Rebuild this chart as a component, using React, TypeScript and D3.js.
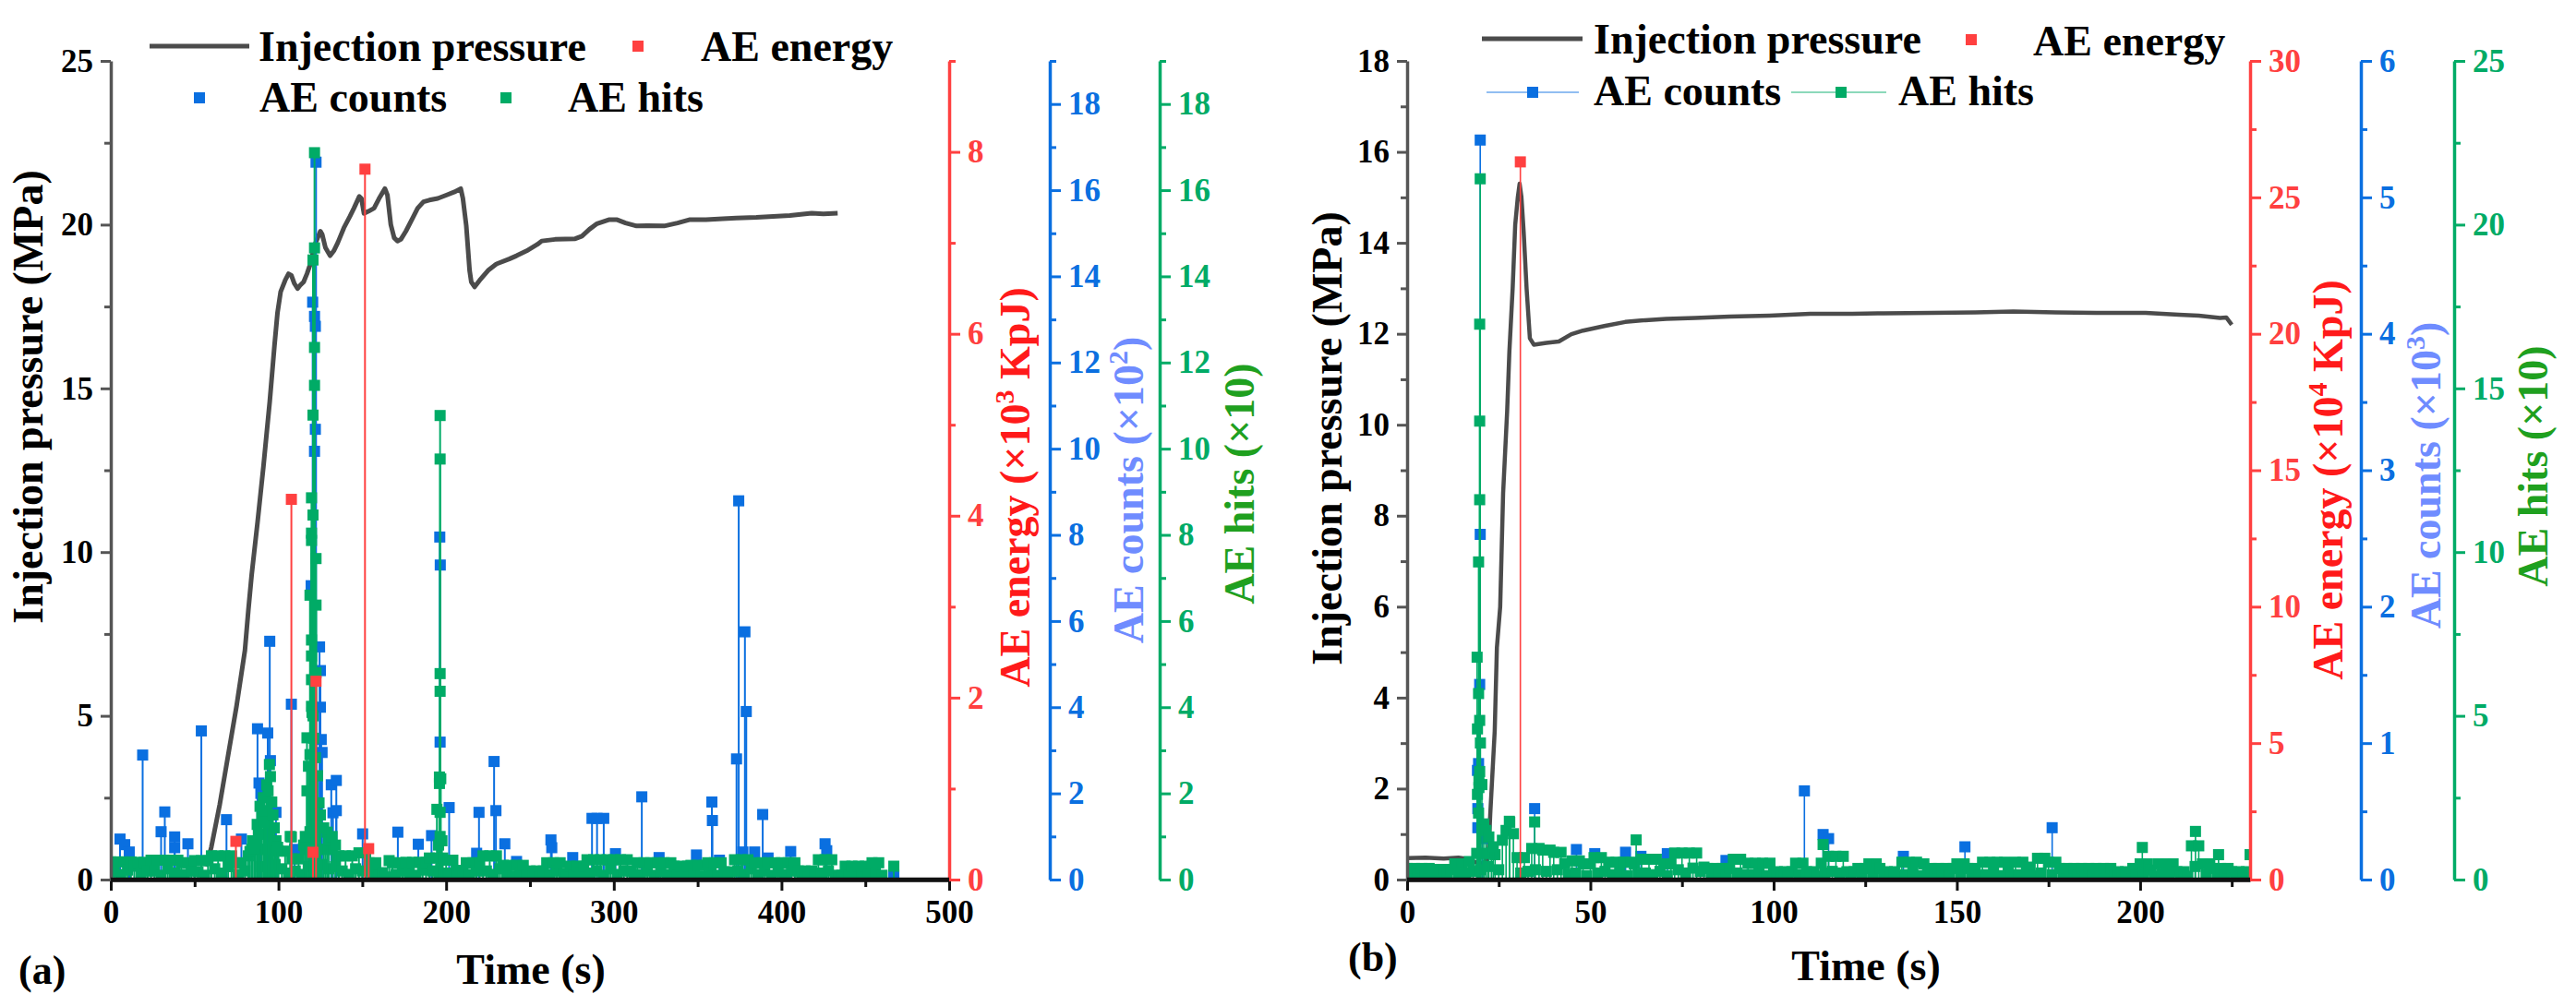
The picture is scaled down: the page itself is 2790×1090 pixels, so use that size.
import React, { useEffect, useRef } from "react";
import * as d3 from "d3";

type Pt = [number, number];

// ================= Panel (a) data =================
const pressureA: Pt[] = [
  [57, 0.4], [60, 1.0], [65, 2.3], [70, 3.8], [75, 5.3], [80, 7.0], [82, 8.2], [84, 9.3], [87.5, 10.9],
  [91, 12.6], [94.8, 14.6], [97.6, 16.3], [99.4, 17.3], [101.3, 17.95], [104, 18.3], [106, 18.5],
  [107.7, 18.45], [109.5, 18.2], [111.4, 18.05], [113, 18.15], [115, 18.25], [117, 18.5], [119.7, 18.9],
  [121, 19.3], [123.4, 19.6], [125, 19.8], [126.1, 19.7], [128, 19.3], [130.8, 19.05], [133, 19.2],
  [135.4, 19.45], [139, 19.9], [142.7, 20.26], [145, 20.5], [148.2, 20.86], [149.5, 20.8], [151, 20.34],
  [153.8, 20.41], [157, 20.5], [160, 20.8], [163.5, 21.1], [165, 20.9], [167, 20.0], [169, 19.6],
  [171, 19.5], [173, 19.55], [176, 19.8], [180, 20.2], [183, 20.5], [186.5, 20.7], [190, 20.75],
  [195, 20.8], [200, 20.9], [205, 21.0], [208.7, 21.1], [210, 20.8], [212, 19.97], [214, 18.6],
  [215, 18.25], [217, 18.1], [220, 18.3], [225, 18.6], [230, 18.8], [237.6, 18.95], [242, 19.05],
  [248, 19.2], [254.5, 19.4], [257, 19.5], [265, 19.55], [277, 19.57], [281, 19.65], [285.5, 19.86],
  [290, 20.03], [297, 20.15], [302, 20.15], [307, 20.05], [313.6, 19.96], [320, 19.97], [330, 19.96],
  [338, 20.05], [345, 20.15], [355, 20.15], [365, 20.18], [373, 20.2], [385, 20.22], [395, 20.25],
  [405, 20.28], [418, 20.35], [425, 20.33], [433.5, 20.35],
];

// AE energy (x10^3 KpJ)
const energyA: Pt[] = [
  [74.6, 0.42], [107.7, 4.18], [120.6, 0.3], [122.4, 2.18], [151.6, 7.81], [153.8, 0.34],
];

// AE counts (x10^2)
const countsA: Pt[] = [
  [5.5, 0.94], [8.3, 0.81], [11, 0.64], [19, 2.89], [30, 1.11], [32.2, 1.57], [38.1, 0.99], [38.1, 0.74],
  [46, 0.83], [54, 3.45], [69, 1.39], [77.9, 0.94], [87.5, 3.5], [88.4, 2.24], [89.5, 2.0], [93.6, 3.4],
  [94.8, 5.53], [95.2, 2.76], [98.5, 1.56], [107.7, 4.07], [109.6, 0.7],
  [122.4, 16.65], [120.4, 13.4], [121.5, 13.07], [122, 12.84], [122, 10.45], [121.5, 9.94], [119.5, 6.82],
  [124.5, 5.4], [125, 4.85], [125, 4.0], [125.5, 3.25], [126, 2.95], [131.5, 2.2], [134.5, 2.3],
  [132.5, 1.55], [134.5, 1.6],
  [150.2, 1.06], [171.2, 1.1], [183.4, 0.82], [191.3, 1.02], [196.2, 7.95], [196.5, 7.3], [196.4, 3.19],
  [201.8, 1.67], [218.2, 0.61], [219.6, 1.56], [228.6, 2.74], [229.7, 1.6], [235, 0.83], [242, 0.42],
  [262.5, 0.92], [263, 0.74], [275.5, 0.51], [287, 1.42], [290, 1.42], [294, 1.42], [301, 0.6],
  [316.7, 1.92], [327, 0.51], [349.3, 0.57], [358.5, 1.8], [358.8, 1.37], [363, 0.45], [373.2, 2.8],
  [374.5, 8.79], [377, 0.64], [378.2, 5.75], [379, 3.9], [384, 0.64], [388.8, 1.51], [392, 0.5],
  [405.5, 0.65], [426, 0.83], [427, 0.67], [467, 0.1],
];

// AE hits (x10): isolated bursts
const hitsA: Pt[] = [
  [83, 0.65], [84.5, 0.9], [85.5, 0.72], [86.4, 0.83], [87.3, 1.28], [88, 1.05], [89, 1.7], [90, 1.45],
  [91, 1.9], [91.6, 1.33], [92, 1.6], [93, 2.2], [93.8, 2.06], [94.6, 2.67], [95.2, 2.39], [96, 1.8],
  [96.7, 1.5], [97.5, 1.2], [98.5, 0.9], [99.5, 0.75], [107, 1.0], [107.7, 0.99],
  [115, 0.8], [116, 1.0], [117, 3.29], [117, 2.06], [117.9, 2.63], [118.8, 6.6], [118.8, 2.9],
  [118.8, 1.11], [119.7, 8.86], [119.7, 8.04], [119.7, 7.87], [119.7, 5.56], [119.7, 5.19],
  [119.7, 4.64], [119.7, 4.02], [120, 3.88], [120.6, 14.38], [120.6, 10.78], [120.6, 8.46],
  [120.6, 3.8], [121, 3.28], [121.5, 16.87], [121.5, 14.66], [121.5, 12.35], [121.5, 11.47],
  [122, 2.83], [122.4, 7.45], [122.4, 6.37], [122.4, 4.8], [123, 1.3], [123.3, 2.41], [124.2, 1.78],
  [125, 1.5], [127, 1.2], [129, 1.1], [130, 0.9], [132, 1.0], [134, 0.8],
  [194.5, 1.63], [195.5, 0.8], [196, 2.38], [196, 2.23], [196.4, 10.77], [196.4, 9.76], [196.4, 4.78],
  [196.4, 4.37], [196.4, 1.56], [196.4, 1.0], [196.8, 2.34], [197.5, 0.9], [467, 0.31],
];

// AE hits (x10): background level, one reading every 2 s from t = 0 s
const hitsBandA: number[] = [
  0.41, 0.18, 0.41, 0.12, 0.41, 0.22, 0.41,
  0.31,
  0.40, 0.15, 0.40, 0.2,
  0.45, 0.2, 0.45, 0.1, 0.45, 0.25, 0.45, 0.15, 0.45,
  0.39, 0.12, 0.39, 0.2,
  0.44, 0.18, 0.44, 0.1, 0.44,
  0.55, 0.25, 0.55, 0.15, 0.55, 0.3, 0.55,
  0.39, 0.12, 0.39, 0.2,
  0.55, 0.7, 0.8,
  0.7, 0.3, 0.7, 0.2, 0.7, 0.35,
  0.66, 0.25, 0.66, 0.15,
  0.48, 0.2, 0.48, 0.12,
  0.7, 0.3, 0.7, 0.2, 0.7, 0.35, 0.7, 0.25, 0.7, 0.3,
  0.55, 0.2, 0.55, 0.12, 0.55, 0.25,
  0.62, 0.2, 0.62,
  0.39, 0.15, 0.39, 0.1,
  0.16, 0.06,
  0.44,
  0.39, 0.12, 0.39, 0.2,
  0.40, 0.15, 0.40, 0.1, 0.40, 0.22, 0.40,
  0.5, 0.2, 0.5, 0.15, 0.5,
  0.45, 0.15, 0.45,
  0.21, 0.08, 0.21,
  0.39, 0.12, 0.39, 0.2, 0.39,
  0.55, 0.2, 0.55, 0.12, 0.55, 0.25,
  0.33, 0.12, 0.33, 0.08, 0.33, 0.15, 0.33, 0.1,
  0.2, 0.08, 0.2, 0.05, 0.2,
  0.39, 0.12, 0.39, 0.2, 0.39,
  0.14, 0.05,
  0.31, 0.1, 0.31, 0.15, 0.31,
  0.46, 0.15, 0.46, 0.2, 0.46, 0.1, 0.46, 0.25, 0.46, 0.12, 0.46, 0.2, 0.46,
  0.2, 0.06,
  0.39, 0.12, 0.39, 0.2, 0.39, 0.1, 0.39, 0.18, 0.39, 0.12, 0.39,
  0.31, 0.1, 0.31, 0.15, 0.31,
  0.33, 0.12, 0.33, 0.08, 0.33,
  0.39, 0.15, 0.39, 0.1, 0.39,
  0.18, 0.06, 0.18,
  0.46, 0.2, 0.46, 0.12, 0.46, 0.25,
  0.39, 0.12, 0.39, 0.2, 0.39, 0.1, 0.39, 0.18, 0.39, 0.12, 0.39, 0.2, 0.39,
  0.2, 0.08, 0.2, 0.05, 0.2, 0.1,
  0.46, 0.15, 0.46, 0.2, 0.46,
  0.1, 0.04, 0.1,
  0.31, 0.1, 0.31, 0.15, 0.31, 0.08, 0.31, 0.12,
  0.39, 0.15, 0.39, 0.1,
];
const hitsBandStepA = 2;

const timeTicksA = [0, 100, 200, 300, 400, 500];
const pressureTicksA = [0, 5, 10, 15, 20, 25];
const energyTicksA = [0, 2, 4, 6, 8];
const countsTicksA = [0, 2, 4, 6, 8, 10, 12, 14, 16, 18];
const hitsTicksA = [0, 2, 4, 6, 8, 10, 12, 14, 16, 18];

// ================= Panel (b) data =================
const pressureB: Pt[] = [
  [0, 0.47], [5, 0.48], [10, 0.46], [14, 0.48], [16.6, 0.45], [18, 0.4], [20, 0.35], [21.5, 0.4],
  [22.2, 0.55], [22.7, 1.46], [23.9, 3.26], [24.5, 5.1], [25.4, 6.0], [26.2, 8.5], [27.3, 10.3],
  [27.9, 11.6], [28.8, 13.0], [29.5, 14.4], [30.2, 15.0], [30.7, 15.3], [31.2, 15.0], [31.8, 14.25],
  [32.6, 13.0], [33.5, 11.9], [34.6, 11.76], [38, 11.8], [41.4, 11.83], [44.8, 11.99], [48, 12.07],
  [53.8, 12.17], [59.5, 12.26], [65, 12.3], [70.7, 12.33], [78.6, 12.35], [88, 12.38], [98.9, 12.4],
  [110, 12.44], [121.5, 12.44], [130, 12.45], [143, 12.46], [155, 12.47], [165.4, 12.49], [177, 12.47],
  [188, 12.46], [201.5, 12.46], [210.6, 12.42], [216, 12.4], [221.8, 12.35], [223.5, 12.36], [225, 12.2],
];

// AE energy (x10^4 KpJ)
const energyB: Pt[] = [[30.9, 26.3]];

// AE counts (x10^3)
const countsB: Pt[] = [
  [19.3, 0.38], [19.3, 0.52], [19.5, 0.85], [19.8, 1.43], [19.95, 2.53], [19.95, 5.42], [19.2, 0.8],
  [20.5, 0.3], [34.8, 0.52], [46.2, 0.22], [51.2, 0.19], [59.6, 0.2], [63.8, 0.17], [71, 0.19],
  [87, 0.14], [108.4, 0.65], [113.5, 0.33], [115, 0.3], [135.4, 0.17], [152.2, 0.24], [176, 0.38],
];

// AE hits (x10): isolated bursts
const hitsB: Pt[] = [
  [19.95, 21.4], [19.8, 16.96], [19.8, 14.0], [19.8, 11.6], [19.5, 9.7], [19.1, 6.79], [19.5, 5.68],
  [19.8, 4.86], [19.2, 4.6], [20, 4.17], [19.8, 3.3], [19.6, 3.04], [19.6, 2.81], [20.4, 2.9],
  [19.2, 2.6], [19.5, 2.03], [20.9, 1.7], [21.5, 1.5], [22.3, 1.3], [23.5, 1.0], [27.9, 1.78],
  [34.8, 1.76], [62.5, 1.21], [113.5, 1.07], [200.6, 0.98], [215.1, 1.47], [221.4, 0.76], [230, 0.76],
];

// AE hits (x10): background level, one reading every 1 s from t = 0 s
const hitsBandB: number[] = [
  0.34, 0.12, 0.34, 0.18, 0.34, 0.1, 0.34, 0.15,
  0.31, 0.1, 0.31, 0.15, 0.31,
  0.48, 0.15, 0.48, 0.2,
  0.55, 0.25,
  0.8, 0.3, 0.8, 0.4, 0.8,
  0.76, 0.3,
  1.2, 1.5, 1.75, 1.4,
  0.67, 0.2, 0.67, 0.25,
  0.95, 0.3, 0.95,
  0.9, 0.25, 0.9,
  0.83, 0.3, 0.83,
  0.48, 0.15,
  0.57, 0.2, 0.57,
  0.48, 0.12, 0.48,
  0.67, 0.2, 0.67, 0.25,
  0.53, 0.15, 0.53, 0.2, 0.53, 0.12, 0.53,
  0.48, 0.15,
  0.62, 0.2, 0.62, 0.15, 0.62, 0.25,
  0.48, 0.12, 0.48,
  0.81, 0.3, 0.81, 0.2, 0.81, 0.35, 0.81, 0.25,
  0.38,
  0.34, 0.1, 0.34, 0.15, 0.34, 0.12, 0.34,
  0.62, 0.2, 0.62, 0.15,
  0.5, 0.15, 0.5, 0.2, 0.5, 0.12, 0.5, 0.18,
  0.24, 0.08, 0.24, 0.1, 0.24,
  0.5, 0.15, 0.5,
  0.24, 0.08, 0.24, 0.1,
  0.5, 0.2,
  0.71, 0.25, 0.71, 0.2, 0.71,
  0.24, 0.08, 0.24,
  0.34, 0.12, 0.34,
  0.48, 0.15, 0.48,
  0.34, 0.1,
  0.24, 0.08, 0.24, 0.1,
  0.53, 0.15, 0.53, 0.2, 0.53, 0.12,
  0.48, 0.15,
  0.34, 0.1, 0.34, 0.15, 0.34, 0.12, 0.34,
  0.48, 0.15, 0.48,
  0.34, 0.1, 0.34, 0.12,
  0.53, 0.15, 0.53, 0.2, 0.53, 0.12, 0.53,
  0.34, 0.1,
  0.53, 0.15, 0.53, 0.2,
  0.38, 0.12,
  0.65, 0.2, 0.65,
  0.53, 0.15, 0.53,
  0.34, 0.1, 0.34, 0.15, 0.34, 0.12, 0.34, 0.08, 0.34, 0.12, 0.34, 0.15, 0.34, 0.1, 0.34, 0.12,
  0.24, 0.08, 0.24, 0.1,
  0.34, 0.12,
  0.48, 0.15, 0.48,
  0.29, 0.1,
  0.48, 0.15, 0.48, 0.2, 0.48,
  0.24, 0.08, 0.24, 0.1,
  1.03, 0.4, 1.03,
  0.48, 0.15, 0.48,
  0.34, 0.1, 0.34, 0.12, 0.34,
  0.24, 0.08, 0.24, 0.1, 0.24, 0.08,
];
const hitsBandStepB = 1;

const timeTicksB = [0, 50, 100, 150, 200];
const pressureTicksB = [0, 2, 4, 6, 8, 10, 12, 14, 16, 18];
const energyTicksB = [0, 5, 10, 15, 20, 25, 30];
const countsTicksB = [0, 1, 2, 3, 4, 5, 6];
const hitsTicksB = [0, 5, 10, 15, 20, 25];

// ================= styling =================
const FONT = "'Liberation Serif', 'Times New Roman', Times, serif";
const GRAY = "#4b4b4b";
const RED = "#ff4040";
const BLUE = "#0a6fe0";
const GREEN = "#00ab66";
const RED_TITLE = "#ff1a1a";
const BLUE_TITLE = "#6f8cff";
const GREEN_TITLE = "#1fa01f";

function bandPoints(vals: number[], step: number): Pt[] {
  return vals.map((v, i) => [i * step, v] as Pt);
}

function drawAxis(parent: any, gen: any, transform: string, lineColor: string, textColor: string, domainW: number, minor: boolean) {
  const a = parent.append("g").attr("transform", transform).call(gen);
  a.attr("font-family", FONT).attr("font-size", 35).attr("font-weight", "bold");
  if (minor) a.select(".domain").remove();
  else a.select(".domain").attr("stroke", lineColor).attr("stroke-width", domainW);
  a.selectAll(".tick line").attr("stroke", lineColor).attr("stroke-width", 3);
  a.selectAll(".tick text")
    .attr("fill", textColor)
    .attr("font-family", FONT)
    .attr("font-size", 35)
    .attr("font-weight", "bold")
    .style("font-family", FONT);
  return a;
}

function drawSeries(plot: any, data: Pt[], x: any, y: any, color: string, stemW: number, size: number) {
  const s = plot.append("g");
  s.selectAll("line").data(data).join("line")
    .attr("x1", (d: Pt) => x(d[0])).attr("x2", (d: Pt) => x(d[0]))
    .attr("y1", y(0)).attr("y2", (d: Pt) => y(d[1]))
    .attr("stroke", color).attr("stroke-width", stemW);
  s.selectAll("rect").data(data).join("rect")
    .attr("x", (d: Pt) => x(d[0]) - size / 2).attr("y", (d: Pt) => y(d[1]) - size / 2)
    .attr("width", size).attr("height", size).attr("fill", color);
}

function vTitle(svg: any, bx: number, cy: number, color: string, parts: [string, boolean][]) {
  const t = svg.append("text")
    .attr("transform", `translate(${bx},${cy}) rotate(-90)`)
    .attr("text-anchor", "middle").attr("font-family", FONT).attr("font-weight", "bold")
    .attr("font-size", 46).attr("fill", color);
  let sup = false;
  parts.forEach(([s, isSup]) => {
    const ts = t.append("tspan").text(s);
    if (isSup && !sup) ts.attr("dy", -17).attr("font-size", 30);
    else if (!isSup && sup) ts.attr("dy", 17);
    sup = isSup;
  });
}

function txt(svg: any, x: number, y: number, s: string, size: number, anchor = "start", color = "#000") {
  svg.append("text").attr("x", x).attr("y", y).attr("font-family", FONT).attr("font-weight", "bold")
    .attr("font-size", size).attr("text-anchor", anchor).attr("fill", color).text(s);
}

function drawPanel(svg: any, c: any) {
  const g = svg.append("g");
  const x = d3.scaleLinear().domain([0, c.xMax]).range([c.left, c.right]);
  const yP = d3.scaleLinear().domain([0, c.pMax]).range([c.bottom, c.top]);
  const yE = d3.scaleLinear().domain([0, c.eMax]).range([c.bottom, c.top]);
  const yC = d3.scaleLinear().domain([0, c.cMax]).range([c.bottom, c.top]);
  const yH = d3.scaleLinear().domain([0, c.hMax]).range([c.bottom, c.top]);

  svg.append("defs").append("clipPath").attr("id", "clip" + c.id).append("rect")
    .attr("x", c.left).attr("y", c.top - 20).attr("width", c.right - c.left).attr("height", c.bottom - c.top + 20);
  const plot = g.append("g").attr("clip-path", `url(#clip${c.id})`);

  plot.append("path").datum(c.pressure)
    .attr("d", d3.line<Pt>().x(d => x(d[0])).y(d => yP(d[1])))
    .attr("fill", "none").attr("stroke", GRAY).attr("stroke-width", c.lineW).attr("stroke-linejoin", "round");

  drawSeries(plot, c.counts, x, yC, BLUE, c.stem, 12);
  drawSeries(plot, c.band, x, yH, GREEN, c.stem, 12);
  drawSeries(plot, c.hits, x, yH, GREEN, c.stem, 12);
  drawSeries(plot, c.energy, x, yE, RED, c.stem, 12);

  // x axis
  drawAxis(g, d3.axisBottom(x).tickValues(c.xMinor).tickSize(8).tickFormat(() => ""), `translate(0,${c.bottom})`, "#111", "#000", 4, true);
  drawAxis(g, d3.axisBottom(x).tickValues(c.xTicks).tickSize(12).tickPadding(10).tickSizeOuter(0).tickFormat(d3.format("d")), `translate(0,${c.bottom})`, "#111", "#000", 4.5, false);
  // left axis
  drawAxis(g, d3.axisLeft(yP).tickValues(c.pMinor).tickSize(7).tickFormat(() => ""), `translate(${c.left},0)`, "#555", "#000", 3, true);
  drawAxis(g, d3.axisLeft(yP).tickValues(c.pTicks).tickSize(11).tickPadding(8).tickSizeOuter(0).tickFormat(d3.format("d")), `translate(${c.left},0)`, "#555", "#000", 3.5, false);
  // right axes
  const rights: [any, number, number[], number[], string][] = [
    [yE, c.right, c.eTicks, c.eMinor, RED],
    [yC, c.blueX, c.cTicks, c.cMinor, BLUE],
    [yH, c.greenX, c.hTicks, c.hMinor, GREEN],
  ];
  rights.forEach(([sc, ax, ticks, minor, col]) => {
    drawAxis(g, d3.axisRight(sc).tickValues(minor).tickSize(7).tickFormat(() => ""), `translate(${ax},0)`, col, col, 3, true);
    drawAxis(g, d3.axisRight(sc).tickValues(ticks).tickSize(12).tickPadding(8).tickSizeOuter(0).tickFormat(d3.format("d")), `translate(${ax},0)`, col, col, 3.5, false);
  });
  g.append("line").attr("x1", c.left).attr("x2", c.right).attr("y1", c.bottom).attr("y2", c.bottom)
    .attr("stroke", "#111").attr("stroke-width", 4.5);

  // titles
  vTitle(svg, c.pTitleX, c.pTitleY, "#000", [["Injection pressure (MPa)", false]]);
  vTitle(svg, c.eTitleX, c.eTitleY, RED_TITLE, [["AE energy (×10", false], [c.eExp, true], [" KpJ)", false]]);
  vTitle(svg, c.cTitleX, c.cTitleY, BLUE_TITLE, [["AE counts (×10", false], [c.cExp, true], [")", false]]);
  vTitle(svg, c.hTitleX, c.hTitleY, GREEN_TITLE, [["AE hits (×10)", false]]);
  txt(svg, c.timeX, c.timeY, "Time (s)", 46, "middle");
  txt(svg, c.tagX, c.tagY, c.tag, 44);

  // legend
  const L = c.legend;
  svg.append("line").attr("x1", L.pLine[0]).attr("x2", L.pLine[1]).attr("y1", L.pLine[2]).attr("y2", L.pLine[2])
    .attr("stroke", GRAY).attr("stroke-width", 5);
  txt(svg, L.pText[0], L.pText[1], "Injection pressure", 46);
  const sq = (cx: number, cy: number, col: string) =>
    svg.append("rect").attr("x", cx - 6).attr("y", cy - 6).attr("width", 12).attr("height", 12).attr("fill", col);
  if (L.withLines) {
    svg.append("line").attr("x1", L.cLine[0]).attr("x2", L.cLine[1]).attr("y1", L.cSq[1]).attr("y2", L.cSq[1])
      .attr("stroke", BLUE).attr("stroke-opacity", 0.45).attr("stroke-width", 2);
    svg.append("line").attr("x1", L.hLine[0]).attr("x2", L.hLine[1]).attr("y1", L.hSq[1]).attr("y2", L.hSq[1])
      .attr("stroke", GREEN).attr("stroke-opacity", 0.45).attr("stroke-width", 2);
  }
  sq(L.eSq[0], L.eSq[1], RED);
  sq(L.cSq[0], L.cSq[1], BLUE);
  sq(L.hSq[0], L.hSq[1], GREEN);
  txt(svg, L.eText[0], L.eText[1], "AE energy", 46);
  txt(svg, L.cText[0], L.cText[1], "AE counts", 46);
  txt(svg, L.hText[0], L.hText[1], "AE hits", 46);
}

export default function App() {
  const ref = useRef<SVGSVGElement>(null);
  useEffect(() => {
    const svg = d3.select(ref.current);
    svg.selectAll("*").remove();
    svg.append("rect").attr("width", 2790).attr("height", 1090).attr("fill", "#fff");

    drawPanel(svg, {
      id: "a", left: 120, right: 1028, top: 66, bottom: 953,
      xMax: 500, xTicks: timeTicksA, xMinor: d3.range(50, 500, 100),
      pMax: 25, pTicks: pressureTicksA, pMinor: d3.range(2.5, 25, 5),
      eMax: 9, eTicks: energyTicksA, eMinor: d3.range(1, 10, 2),
      cMax: 19, cTicks: countsTicksA, cMinor: d3.range(1, 20, 2),
      hMax: 19, hTicks: hitsTicksA, hMinor: d3.range(1, 20, 2),
      blueX: 1137, greenX: 1256, stem: 2, lineW: 5,
      pressure: pressureA, energy: energyA, counts: countsA, hits: hitsA,
      band: bandPoints(hitsBandA, hitsBandStepA),
      pTitleX: 46, pTitleY: 430,
      eTitleX: 1115, eTitleY: 528, eExp: "3",
      cTitleX: 1238, cTitleY: 531, cExp: "2",
      hTitleX: 1358, hTitleY: 524,
      timeX: 575, timeY: 1066, tag: "(a)", tagX: 20, tagY: 1066,
      legend: {
        withLines: false,
        pLine: [162, 270, 50], pText: [280, 66],
        eSq: [691, 50], eText: [759, 66],
        cSq: [216, 106], cText: [281, 121],
        hSq: [548, 106], hText: [615, 121],
      },
    });

    drawPanel(svg, {
      id: "b", left: 1524, right: 2437, top: 66, bottom: 953,
      xMax: 230, xTicks: timeTicksB, xMinor: d3.range(25, 230, 50),
      pMax: 18, pTicks: pressureTicksB, pMinor: d3.range(1, 18, 2),
      eMax: 30, eTicks: energyTicksB, eMinor: d3.range(2.5, 30, 5),
      cMax: 6, cTicks: countsTicksB, cMinor: d3.range(0.5, 6, 1),
      hMax: 25, hTicks: hitsTicksB, hMinor: d3.range(2.5, 25, 5),
      blueX: 2557, greenX: 2658, stem: 1.6, lineW: 4.5,
      pressure: pressureB, energy: energyB, counts: countsB, hits: hitsB,
      band: bandPoints(hitsBandB, hitsBandStepB),
      pTitleX: 1453, pTitleY: 475,
      eTitleX: 2537, eTitleY: 520, eExp: "4",
      cTitleX: 2643, cTitleY: 515, cExp: "3",
      hTitleX: 2759, hTitleY: 505,
      timeX: 2021, timeY: 1062, tag: "(b)", tagX: 1460, tagY: 1052,
      legend: {
        withLines: true,
        pLine: [1605, 1714, 42], pText: [1726, 58],
        eSq: [2135, 43], eText: [2202, 60],
        cSq: [1660, 100], cText: [1726, 114], cLine: [1610, 1710],
        hSq: [1994, 100], hText: [2056, 114], hLine: [1940, 2043],
      },
    });
  }, []);
  return (
    <div style={{ position: "fixed", left: 0, top: 0 }}>
      <svg ref={ref} width={2790} height={1090} style={{ display: "block" }} />
    </div>
  );
}
